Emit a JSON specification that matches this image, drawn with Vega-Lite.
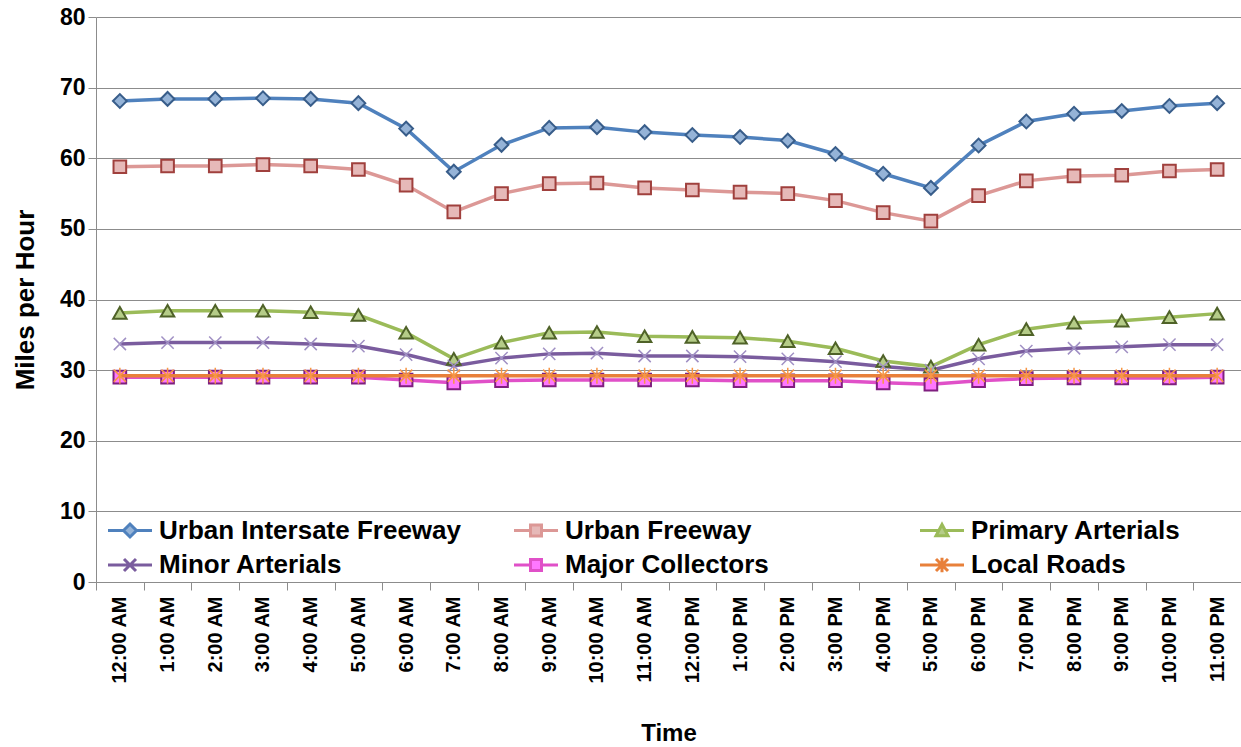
{
  "$schema": "https://vega.github.io/schema/vega-lite/v6.json",
  "width": 1145,
  "height": 565,
  "autosize": {"type": "none"},
  "padding": {"left": 96, "top": 17, "right": 0, "bottom": 165},
  "background": "white",
  "config": {"font": "Liberation Sans", "view": {"stroke": null}},
  "data": {"values": [
    {"time": "12:00 AM", "Urban Intersate Freeway": 68.1, "Urban Freeway": 58.8, "Primary Arterials": 38.1, "Minor Arterials": 33.7, "Major Collectors": 29.0, "Local Roads": 29.2},
    {"time": "1:00 AM", "Urban Intersate Freeway": 68.4, "Urban Freeway": 58.9, "Primary Arterials": 38.4, "Minor Arterials": 33.9, "Major Collectors": 29.0, "Local Roads": 29.2},
    {"time": "2:00 AM", "Urban Intersate Freeway": 68.4, "Urban Freeway": 58.9, "Primary Arterials": 38.4, "Minor Arterials": 33.9, "Major Collectors": 29.0, "Local Roads": 29.2},
    {"time": "3:00 AM", "Urban Intersate Freeway": 68.5, "Urban Freeway": 59.1, "Primary Arterials": 38.4, "Minor Arterials": 33.9, "Major Collectors": 29.0, "Local Roads": 29.2},
    {"time": "4:00 AM", "Urban Intersate Freeway": 68.4, "Urban Freeway": 58.9, "Primary Arterials": 38.2, "Minor Arterials": 33.7, "Major Collectors": 29.0, "Local Roads": 29.2},
    {"time": "5:00 AM", "Urban Intersate Freeway": 67.8, "Urban Freeway": 58.4, "Primary Arterials": 37.8, "Minor Arterials": 33.4, "Major Collectors": 29.0, "Local Roads": 29.2},
    {"time": "6:00 AM", "Urban Intersate Freeway": 64.2, "Urban Freeway": 56.2, "Primary Arterials": 35.3, "Minor Arterials": 32.2, "Major Collectors": 28.6, "Local Roads": 29.2},
    {"time": "7:00 AM", "Urban Intersate Freeway": 58.1, "Urban Freeway": 52.4, "Primary Arterials": 31.6, "Minor Arterials": 30.6, "Major Collectors": 28.2, "Local Roads": 29.2},
    {"time": "8:00 AM", "Urban Intersate Freeway": 61.9, "Urban Freeway": 55.0, "Primary Arterials": 33.9, "Minor Arterials": 31.7, "Major Collectors": 28.5, "Local Roads": 29.2},
    {"time": "9:00 AM", "Urban Intersate Freeway": 64.3, "Urban Freeway": 56.4, "Primary Arterials": 35.3, "Minor Arterials": 32.3, "Major Collectors": 28.6, "Local Roads": 29.2},
    {"time": "10:00 AM", "Urban Intersate Freeway": 64.4, "Urban Freeway": 56.5, "Primary Arterials": 35.4, "Minor Arterials": 32.4, "Major Collectors": 28.6, "Local Roads": 29.2},
    {"time": "11:00 AM", "Urban Intersate Freeway": 63.7, "Urban Freeway": 55.8, "Primary Arterials": 34.8, "Minor Arterials": 32.0, "Major Collectors": 28.6, "Local Roads": 29.2},
    {"time": "12:00 PM", "Urban Intersate Freeway": 63.3, "Urban Freeway": 55.5, "Primary Arterials": 34.7, "Minor Arterials": 32.0, "Major Collectors": 28.6, "Local Roads": 29.2},
    {"time": "1:00 PM", "Urban Intersate Freeway": 63.0, "Urban Freeway": 55.2, "Primary Arterials": 34.6, "Minor Arterials": 31.9, "Major Collectors": 28.5, "Local Roads": 29.2},
    {"time": "2:00 PM", "Urban Intersate Freeway": 62.5, "Urban Freeway": 55.0, "Primary Arterials": 34.1, "Minor Arterials": 31.6, "Major Collectors": 28.5, "Local Roads": 29.2},
    {"time": "3:00 PM", "Urban Intersate Freeway": 60.6, "Urban Freeway": 54.0, "Primary Arterials": 33.1, "Minor Arterials": 31.2, "Major Collectors": 28.5, "Local Roads": 29.2},
    {"time": "4:00 PM", "Urban Intersate Freeway": 57.8, "Urban Freeway": 52.3, "Primary Arterials": 31.3, "Minor Arterials": 30.5, "Major Collectors": 28.2, "Local Roads": 29.2},
    {"time": "5:00 PM", "Urban Intersate Freeway": 55.8, "Urban Freeway": 51.1, "Primary Arterials": 30.5, "Minor Arterials": 30.0, "Major Collectors": 28.0, "Local Roads": 29.2},
    {"time": "6:00 PM", "Urban Intersate Freeway": 61.8, "Urban Freeway": 54.7, "Primary Arterials": 33.6, "Minor Arterials": 31.6, "Major Collectors": 28.5, "Local Roads": 29.2},
    {"time": "7:00 PM", "Urban Intersate Freeway": 65.2, "Urban Freeway": 56.8, "Primary Arterials": 35.8, "Minor Arterials": 32.7, "Major Collectors": 28.8, "Local Roads": 29.2},
    {"time": "8:00 PM", "Urban Intersate Freeway": 66.3, "Urban Freeway": 57.5, "Primary Arterials": 36.7, "Minor Arterials": 33.1, "Major Collectors": 28.9, "Local Roads": 29.2},
    {"time": "9:00 PM", "Urban Intersate Freeway": 66.7, "Urban Freeway": 57.6, "Primary Arterials": 37.0, "Minor Arterials": 33.3, "Major Collectors": 28.9, "Local Roads": 29.2},
    {"time": "10:00 PM", "Urban Intersate Freeway": 67.4, "Urban Freeway": 58.2, "Primary Arterials": 37.5, "Minor Arterials": 33.6, "Major Collectors": 28.9, "Local Roads": 29.2},
    {"time": "11:00 PM", "Urban Intersate Freeway": 67.8, "Urban Freeway": 58.4, "Primary Arterials": 38.0, "Minor Arterials": 33.6, "Major Collectors": 29.0, "Local Roads": 29.2}
  ]},
  "transform": [
    {"fold": ["Urban Intersate Freeway", "Urban Freeway", "Primary Arterials", "Minor Arterials", "Major Collectors", "Local Roads"], "as": ["series", "mph"]}
  ],
  "encoding": {
    "x": {
      "field": "time", "type": "nominal", "sort": null,
      "scale": {"type": "band", "paddingInner": 0, "paddingOuter": 0},
      "axis": {
        "title": "Time", "titleFontSize": 24, "titleFontWeight": "bold", "titleColor": "black", "titlePadding": 38,
        "labelAngle": -90, "labelFontSize": 20, "labelFontWeight": "bold", "labelColor": "black", "labelPadding": 6,
        "labelLimit": 300,
        "tickBand": "extent", "tickColor": "#8c8c8c", "tickSize": 8, "domainColor": "#8c8c8c", "grid": false
      }
    },
    "y": {
      "field": "mph", "type": "quantitative",
      "scale": {"domain": [0, 80], "nice": false},
      "axis": {
        "title": "Miles per Hour", "titleFontSize": 26, "titleFontWeight": "bold", "titleColor": "black", "titlePadding": 21,
        "labelFontSize": 23, "labelFontWeight": "bold", "labelColor": "black", "labelPadding": 3,
        "values": [0, 10, 20, 30, 40, 50, 60, 70, 80],
        "gridColor": "#8c8c8c", "tickColor": "#8c8c8c", "tickSize": 8, "domainColor": "#8c8c8c"
      }
    }
  },
  "layer": [
    {
      "transform": [{"filter": "datum.series !== 'Local Roads'"}],
      "mark": {"type": "line", "strokeWidth": 3.5},
      "encoding": {
        "color": {
          "field": "series", "type": "nominal",
          "scale": {
            "domain": ["Urban Intersate Freeway", "Minor Arterials", "Urban Freeway", "Major Collectors", "Primary Arterials", "Local Roads"],
            "range": ["#4F81BD", "#7A5C9E", "#DC9896", "#E050C8", "#9BBB59", "#E8803A"]
          },
          "legend": {
            "title": null, "orient": "none", "legendX": 21, "legendY": 500, "columns": 3, "gridAlign": "all",
            "columnPadding": 46, "rowPadding": 7,
            "labelFont": "Liberation Sans", "labelFontSize": 26, "labelFontWeight": "bold", "labelColor": "black",
            "labelLimit": 400, "labelOffset": 16, "symbolSize": 400, "symbolStrokeWidth": 3
          }
        }
      }
    },
    {
      "transform": [{"filter": "datum.series === 'Urban Intersate Freeway'"}],
      "mark": {"type": "point", "shape": "diamond", "size": 190, "strokeWidth": 2, "opacity": 1, "fill": "#95B3D7", "fillOpacity": 1, "stroke": "#385D8A"},
      "encoding": {}
    },
    {
      "transform": [{"filter": "datum.series === 'Urban Freeway'"}],
      "mark": {"type": "point", "shape": "square", "size": 160, "strokeWidth": 2, "opacity": 1, "fill": "#E6B9B8", "fillOpacity": 1, "stroke": "#A0403D"},
      "encoding": {}
    },
    {
      "transform": [{"filter": "datum.series === 'Primary Arterials'"}],
      "mark": {"type": "point", "shape": "triangle-up", "size": 180, "strokeWidth": 2, "opacity": 1, "fill": "#B5CC88", "fillOpacity": 1, "stroke": "#4F6228"},
      "encoding": {}
    },
    {
      "transform": [{"filter": "datum.series === 'Minor Arterials'"}],
      "mark": {"type": "point", "shape": "M-1,-1L1,1M-1,1L1,-1", "size": 150, "strokeWidth": 1.5, "opacity": 1, "fill": "transparent", "stroke": "#A090C4"},
      "encoding": {}
    },
    {
      "transform": [{"filter": "datum.series === 'Major Collectors'"}],
      "mark": {"type": "point", "shape": "square", "size": 160, "strokeWidth": 2, "opacity": 1, "fill": "#FF77FF", "fillOpacity": 1, "stroke": "#7F1F7F"},
      "encoding": {}
    },
    {
      "transform": [{"filter": "datum.series === 'Local Roads'"}],
      "mark": {"type": "line", "strokeWidth": 3.5, "stroke": "#E8803A"},
      "encoding": {}
    },
    {
      "transform": [{"filter": "datum.series === 'Local Roads'"}],
      "mark": {"type": "point", "filled": false, "size": 150, "strokeWidth": 1.5, "opacity": 1, "stroke": "#F79646", "shape": "M-1,-1L1,1M-1,1L1,-1M0,-1.3L0,1.3"},
      "encoding": {}
    },
    {
      "mark": {"type": "point", "filled": false, "opacity": 1, "fillOpacity": 1, "size": 0, "strokeWidth": 0},
      "encoding": {
        "shape": {
          "field": "series", "type": "nominal",
          "scale": {
            "domain": ["Urban Intersate Freeway", "Minor Arterials", "Urban Freeway", "Major Collectors", "Primary Arterials", "Local Roads"],
            "range": [
              "M-2.2,0L-0.65,0M0.65,0L2.2,0M-0.65,0L0,-0.65L0.65,0L0,0.65Z",
              "M-2.2,0L2.2,0M-0.6,-0.6L0.6,0.6M-0.6,0.6L0.6,-0.6",
              "M-2.2,0L-0.55,0M0.55,0L2.2,0M-0.55,-0.55L0.55,-0.55L0.55,0.55L-0.55,0.55Z",
              "M-2.2,0L-0.55,0M0.55,0L2.2,0M-0.55,-0.55L0.55,-0.55L0.55,0.55L-0.55,0.55Z",
              "M-2.2,0L-0.4,0M0.4,0L2.2,0M-0.6,0.52L0,-0.6L0.6,0.52Z",
              "M-2.2,0L2.2,0M-0.6,-0.6L0.6,0.6M-0.6,0.6L0.6,-0.6M0,-0.72L0,0.72"
            ]
          },
          "legend": null
        },
        "fill": {
          "field": "series", "type": "nominal",
          "scale": {
            "domain": ["Urban Intersate Freeway", "Minor Arterials", "Urban Freeway", "Major Collectors", "Primary Arterials", "Local Roads"],
            "range": ["#95B3D7", "transparent", "#E6B9B8", "#FF77FF", "#B5CC88", "transparent"]
          },
          "legend": null
        }
      }
    }
  ]
}
